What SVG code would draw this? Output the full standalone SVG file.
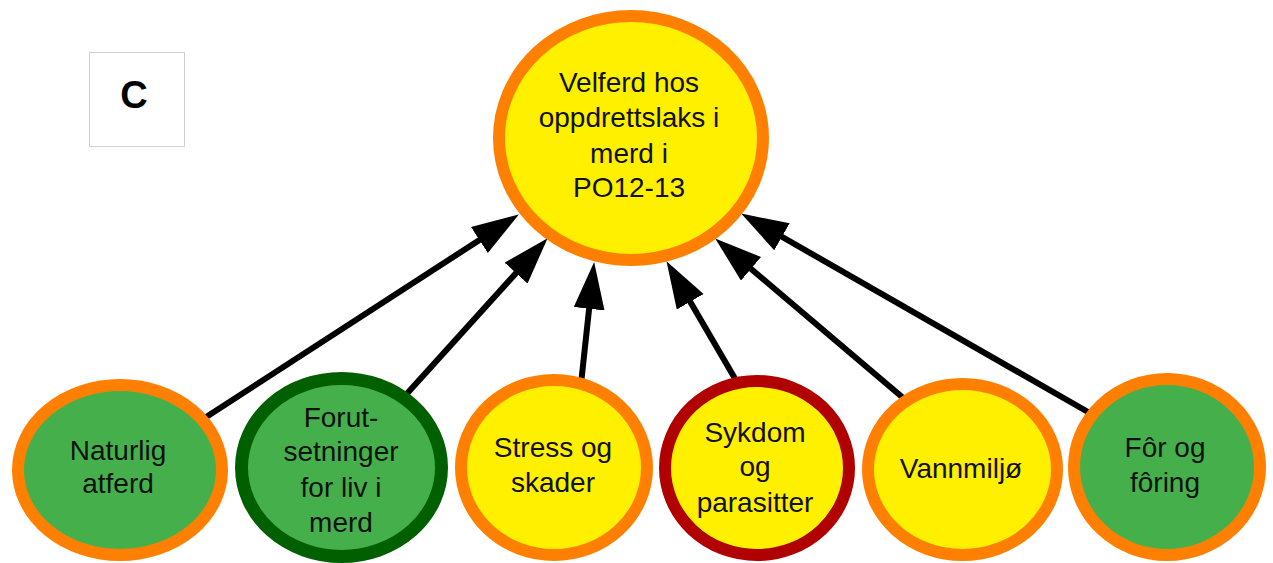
<svg xmlns="http://www.w3.org/2000/svg" width="1273" height="563" viewBox="0 0 1273 563">
<style>
.t{font-family:"Liberation Sans",Arial,sans-serif;font-size:28px;fill:#111;text-anchor:middle}
.c{stroke-width:12}
.ye{fill:#FFF000}
.gr{fill:#45B04B}
.or{stroke:#FF8000}
.dg{stroke:#006000}
.dr{stroke:#B00000}
.ln{stroke:#000;stroke-width:6;fill:none;marker-end:url(#ah)}
</style>
<defs>
<marker id="ah" markerUnits="userSpaceOnUse" markerWidth="48" markerHeight="32" refX="26" refY="15.5" orient="auto" viewBox="0 0 48 32">
<path d="M0,0 L47,15.5 L0,31 Z" fill="#000"/>
</marker>
</defs>
<rect width="1273" height="563" fill="#fff"/>
<g id="label-c">
<rect x="89.5" y="52.5" width="95" height="94" fill="#fff" stroke="#d0d0d0" stroke-width="1"/>
<text x="134" y="108" style="font-family:'Liberation Sans',Arial,sans-serif;font-size:38px;font-weight:bold;text-anchor:middle">C</text>
</g>
<g id="connectors">
<line class="ln" x1="200" y1="421" x2="501.2" y2="225.9"/>
<line class="ln" x1="403" y1="398" x2="533.5" y2="253.8"/>
<line class="ln" x1="581" y1="384" x2="591.9" y2="282.9"/>
<line class="ln" x1="737" y1="382" x2="677.1" y2="279.3"/>
<line class="ln" x1="908" y1="402" x2="731.2" y2="252.0"/>
<line class="ln" x1="1095" y1="416" x2="759.4" y2="223.9"/>
</g>
<g id="top">
<ellipse class="c ye or" cx="631" cy="138" rx="132" ry="122"/>
<text class="t" x="629" y="92">Velferd hos</text>
<text class="t" x="629" y="127">oppdrettslaks i</text>
<text class="t" x="629" y="163">merd i</text>
<text class="t" x="629" y="197">PO12-13</text>
</g>
<g id="naturlig">
<ellipse class="c gr or" cx="120" cy="470" rx="102" ry="85"/>
<text class="t" x="118" y="460">Naturlig</text>
<text class="t" x="118" y="493">atferd</text>
</g>
<g id="forutsetninger">
<ellipse class="gr dg" stroke-width="13" cx="341.5" cy="467.5" rx="100" ry="89"/>
<text class="t" x="341" y="427">Forut-</text>
<text class="t" x="341" y="461">setninger</text>
<text class="t" x="341" y="497">for liv i</text>
<text class="t" x="341" y="532">merd</text>
</g>
<g id="stress">
<ellipse class="c ye or" cx="554" cy="467.5" rx="93" ry="87.5"/>
<text class="t" x="553" y="457">Stress og</text>
<text class="t" x="553" y="492">skader</text>
</g>
<g id="sykdom">
<ellipse class="c ye dr" cx="757" cy="468" rx="92" ry="87"/>
<text class="t" x="755" y="442">Sykdom</text>
<text class="t" x="755" y="476">og</text>
<text class="t" x="755" y="512">parasitter</text>
</g>
<g id="vannmiljo">
<ellipse class="c ye or" cx="962.5" cy="469.5" rx="94.5" ry="85.5"/>
<text class="t" x="961" y="478">Vannmiljø</text>
</g>
<g id="for">
<ellipse class="c gr or" cx="1167" cy="467" rx="93" ry="88"/>
<text class="t" x="1165" y="457">Fôr og</text>
<text class="t" x="1165" y="492">fôring</text>
</g>
</svg>
